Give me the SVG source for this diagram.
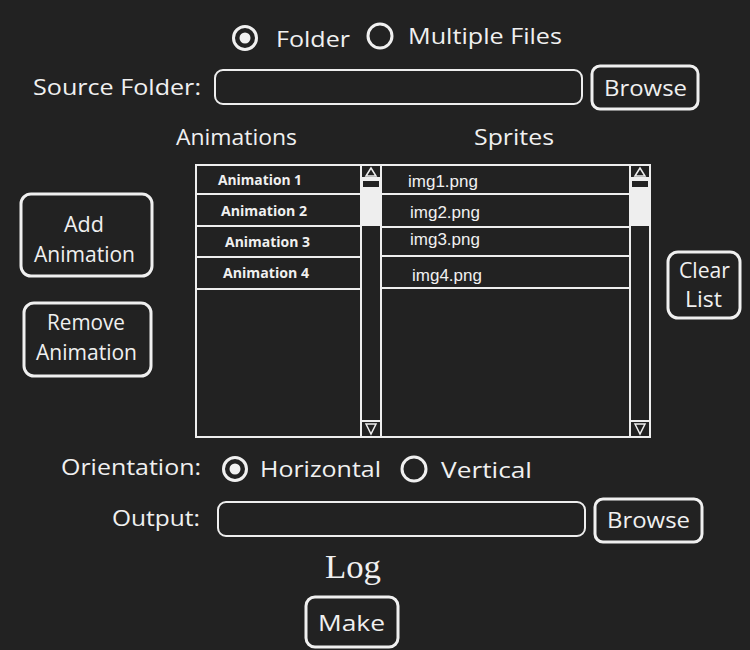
<svg xmlns="http://www.w3.org/2000/svg" width="750" height="650" viewBox="0 0 750 650">
<style>
.t{font-family:"Open Sans","DejaVu Sans",sans-serif;fill:#f0f0f0;font-size:22px}
.s{font-family:"Open Sans","DejaVu Sans",sans-serif;fill:#f0f0f0;font-size:14px;font-weight:bold}
.f{font-family:"Liberation Sans",sans-serif;fill:#f0f0f0;font-size:17px}
.box{fill:none;stroke:#eeeeee;stroke-width:2}
.btn{fill:none;stroke:#f0f0f0;stroke-width:3}
.ln{stroke:#eeeeee;stroke-width:2}
</style>
<rect width="750" height="650" fill="#222222"/>
<g id="sourceRadios">
<circle cx="245" cy="38" r="11.5" class="btn"/><circle cx="245" cy="38" r="5.5" fill="#f0f0f0"/>
<text x="276" y="47" class="t" textLength="74" lengthAdjust="spacingAndGlyphs">Folder</text>
<circle cx="380" cy="36" r="12" class="btn"/>
<text x="408" y="44" class="t" textLength="154" lengthAdjust="spacingAndGlyphs">Multiple Files</text>
</g>
<g id="sourceFolder">
<text x="33" y="95" class="t" textLength="168" lengthAdjust="spacingAndGlyphs">Source Folder:</text>
<rect x="215" y="70" width="367" height="34" rx="8" class="box" stroke-width="1.5"/>
<rect x="592" y="66" width="106" height="43" rx="8" class="btn"/>
<text x="604" y="96" class="t" textLength="83" lengthAdjust="spacingAndGlyphs">Browse</text>
</g>
<text x="176" y="145" class="t" textLength="121" lengthAdjust="spacingAndGlyphs">Animations</text>
<text x="474" y="145" class="t" textLength="80" lengthAdjust="spacingAndGlyphs">Sprites</text>
<g id="animList">
<rect x="196" y="165" width="185" height="272" class="box"/>
<line x1="361" y1="165" x2="361" y2="437" class="ln"/>
<line x1="196" y1="194" x2="361" y2="194" class="ln"/>
<line x1="196" y1="226" x2="361" y2="226" class="ln"/>
<line x1="196" y1="257" x2="361" y2="257" class="ln"/>
<line x1="196" y1="289" x2="361" y2="289" class="ln"/>
<rect x="361" y="165" width="20" height="13" class="box" stroke-width="1.5"/>
<path d="M366 176 L371 168 L376 176 Z" fill="none" stroke="#eee" stroke-width="1.5"/>
<rect x="362" y="180" width="18" height="8" class="box" stroke-width="1"/>
<rect x="362" y="188" width="18" height="38" fill="#eeeeee"/>
<rect x="361" y="421" width="20" height="16" class="box" stroke-width="1.5"/>
<path d="M366 424 L371 434 L376 424 Z" fill="none" stroke="#eee" stroke-width="1.5"/>
<text x="218" y="185" class="s" textLength="84" lengthAdjust="spacingAndGlyphs">Animation 1</text>
<text x="221" y="216" class="s" textLength="86" lengthAdjust="spacingAndGlyphs">Animation 2</text>
<text x="225" y="247" class="s" textLength="85" lengthAdjust="spacingAndGlyphs">Animation 3</text>
<text x="223" y="278" class="s" textLength="86" lengthAdjust="spacingAndGlyphs">Animation 4</text>
</g>
<g id="spriteList">
<rect x="381" y="165" width="269" height="272" class="box"/>
<line x1="630" y1="165" x2="630" y2="437" class="ln"/>
<line x1="381" y1="194" x2="630" y2="194" class="ln"/>
<line x1="381" y1="227" x2="630" y2="227" class="ln"/>
<line x1="381" y1="256" x2="630" y2="256" class="ln"/>
<line x1="381" y1="288" x2="630" y2="288" class="ln"/>
<rect x="630" y="165" width="20" height="13" class="box" stroke-width="1.5"/>
<path d="M635 176 L640 168 L645 176 Z" fill="none" stroke="#eee" stroke-width="1.5"/>
<rect x="631" y="180" width="18" height="8" class="box" stroke-width="1"/>
<rect x="631" y="188" width="18" height="38" fill="#eeeeee"/>
<rect x="630" y="421" width="20" height="16" class="box" stroke-width="1.5"/>
<path d="M635 424 L640 434 L645 424 Z" fill="none" stroke="#eee" stroke-width="1.5"/>
<text x="408" y="187" class="f">img1.png</text>
<text x="410" y="218" class="f">img2.png</text>
<text x="410" y="245" class="f">img3.png</text>
<text x="412" y="281" class="f">img4.png</text>
</g>
<g id="addAnimation">
<rect x="21" y="194" width="131" height="82" rx="10" class="btn"/>
<text x="64" y="232" class="t" textLength="40" lengthAdjust="spacingAndGlyphs">Add</text>
<text x="34" y="262" class="t" textLength="101" lengthAdjust="spacingAndGlyphs">Animation</text>
</g>
<g id="removeAnimation">
<rect x="24" y="303" width="127" height="73" rx="10" class="btn"/>
<text x="47" y="330" class="t" textLength="78" lengthAdjust="spacingAndGlyphs">Remove</text>
<text x="36" y="360" class="t" textLength="101" lengthAdjust="spacingAndGlyphs">Animation</text>
</g>
<g id="clearList">
<rect x="668" y="252" width="72" height="66" rx="10" class="btn"/>
<text x="679" y="278" class="t" textLength="51" lengthAdjust="spacingAndGlyphs">Clear</text>
<text x="685" y="307" class="t" textLength="37" lengthAdjust="spacingAndGlyphs">List</text>
</g>
<g id="orientation">
<text x="61" y="475" class="t" textLength="140" lengthAdjust="spacingAndGlyphs">Orientation:</text>
<circle cx="235" cy="469" r="11.5" class="btn"/><circle cx="235" cy="469" r="5.5" fill="#f0f0f0"/>
<text x="260" y="477" class="t" textLength="121" lengthAdjust="spacingAndGlyphs">Horizontal</text>
<circle cx="414" cy="469" r="12" class="btn"/>
<text x="441" y="478" class="t" textLength="91" lengthAdjust="spacingAndGlyphs">Vertical</text>
</g>
<g id="output">
<text x="112" y="526" class="t" textLength="88" lengthAdjust="spacingAndGlyphs">Output:</text>
<rect x="218" y="502" width="367" height="34" rx="8" class="box" stroke-width="1.5"/>
<rect x="595" y="499" width="107" height="43" rx="8" class="btn"/>
<text x="607" y="528" class="t" textLength="83" lengthAdjust="spacingAndGlyphs">Browse</text>
</g>
<text x="325" y="578" font-family="Liberation Serif,serif" font-size="34" fill="#f0f0f0" textLength="56" lengthAdjust="spacingAndGlyphs">Log</text>
<g id="make">
<rect x="306" y="597" width="92" height="50" rx="9" class="btn"/>
<text x="318" y="631" class="t" font-size="24" textLength="67" lengthAdjust="spacingAndGlyphs">Make</text>
</g>
</svg>
